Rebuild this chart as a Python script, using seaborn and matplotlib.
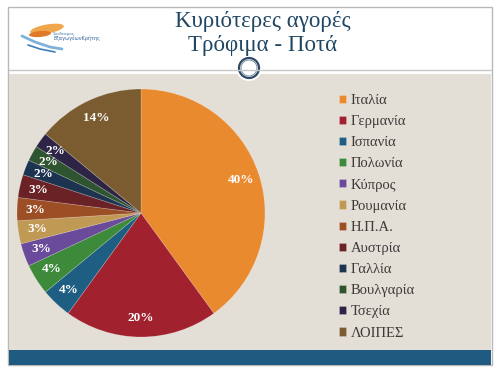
import matplotlib
matplotlib.use('Agg')
import matplotlib.pyplot as plt
import matplotlib.patches as mpatches
import seaborn as sns

countries = ['Ιταλία', 'Γερμανία', 'Ισπανία', 'Πολωνία', 'Κύπρος', 'Ρουμανία',
             'Η.Π.Α.', 'Αυστρία', 'Γαλλία', 'Βουλγαρία', 'Τσεχία', 'ΛΟΙΠΕΣ']
shares = [40, 20, 4, 4, 3, 3, 3, 3, 2, 2, 2, 14]
colors = ['#E98A2F', '#A2212F', '#1E5E82', '#3E8A3B', '#6A4A9B', '#C09A55',
          '#9C4F25', '#6B2226', '#1C3450', '#2F5430', '#2E2546', '#7A5C30']

sns.set_theme(style='white')
plt.rcParams['font.family'] = ['Liberation Serif', 'DejaVu Serif']

fig = plt.figure(figsize=(5, 3.75), dpi=100)
fig.patch.set_facecolor('white')

W, H = 500, 375


def box(x0, y0, x1, y1):
    # pixel coords (top origin) -> figure fraction rect
    return [x0 / W, 1 - y1 / H, (x1 - x0) / W, (y1 - y0) / H]


# background pieces of the slide
bg = fig.add_axes([0, 0, 1, 1])
bg.set_xlim(0, W)
bg.set_ylim(H, 0)
bg.axis('off')
bg.add_patch(mpatches.Rectangle((8, 7), 484, 358, facecolor='white', edgecolor='#b8b8b8', lw=1))
bg.add_patch(mpatches.Rectangle((9, 74), 482, 276, facecolor='#E4DFD6', edgecolor='none'))
bg.plot([9, 491], [70, 70], color='#c8c8c8', lw=1)
bg.add_patch(mpatches.Rectangle((9, 350), 482, 15, facecolor='#1F5A80', edgecolor='none'))
bg.add_patch(mpatches.Circle((249, 68), 13, facecolor='white', edgecolor='none'))
bg.add_patch(mpatches.Circle((249, 68), 10, facecolor='white', edgecolor='#2E4A66', lw=1.6))
bg.add_patch(mpatches.Circle((249, 68), 8, facecolor='none', edgecolor='#6C8096', lw=0.6))

# logo
bg.add_patch(mpatches.Ellipse((47, 29), 34, 9, angle=-10, facecolor='#F0A64A', edgecolor='none'))
bg.add_patch(mpatches.Ellipse((40, 34), 22, 6, angle=-5, facecolor='#E07A2A', edgecolor='none'))
bg.plot([22, 35, 50, 62], [36, 42, 47, 49], color='#7FB2DA', lw=2)
bg.plot([28, 40, 55], [45, 49, 52], color='#3E7FB8', lw=1.2)
bg.text(53, 35, 'Σύνδεσμος', fontsize=3, color='#3E7FB8', family=['DejaVu Sans'])
bg.text(53, 40, 'ΕξαγωγέωνΚρήτης', fontsize=3.5, color='#2E5E9E', family=['DejaVu Sans'])

# title
bg.text(263, 21, 'Κυριότερες αγορές', ha='center', va='center', fontsize=16.5, color='#1F4663')
bg.text(263, 45, 'Τρόφιμα - Ποτά', ha='center', va='center', fontsize=16.5, color='#1F4663')

# pie
ax = fig.add_axes(box(17, 89, 265, 337))
wedges, texts, autotexts = ax.pie(
    shares, colors=colors, startangle=90, counterclock=False,
    autopct='%1.0f%%', pctdistance=0.85,
    wedgeprops=dict(edgecolor=(1, 1, 1, 0.25), linewidth=0.5),
    textprops=dict(color='white', fontsize=9.5, fontweight='bold'))
ax.set_xlim(-1, 1)
ax.set_ylim(-1, 1)
ax.set_aspect('equal')

leg = fig.legend(wedges, countries, loc='upper left', bbox_to_anchor=(333 / W, 1 - 88 / H),
                 frameon=False, fontsize=10.5, labelcolor='#3a3a3a',
                 handlelength=0.5, handleheight=0.5, handletextpad=0.3,
                 labelspacing=0.56, borderaxespad=0)

fig.savefig('out.png', dpi=100)
